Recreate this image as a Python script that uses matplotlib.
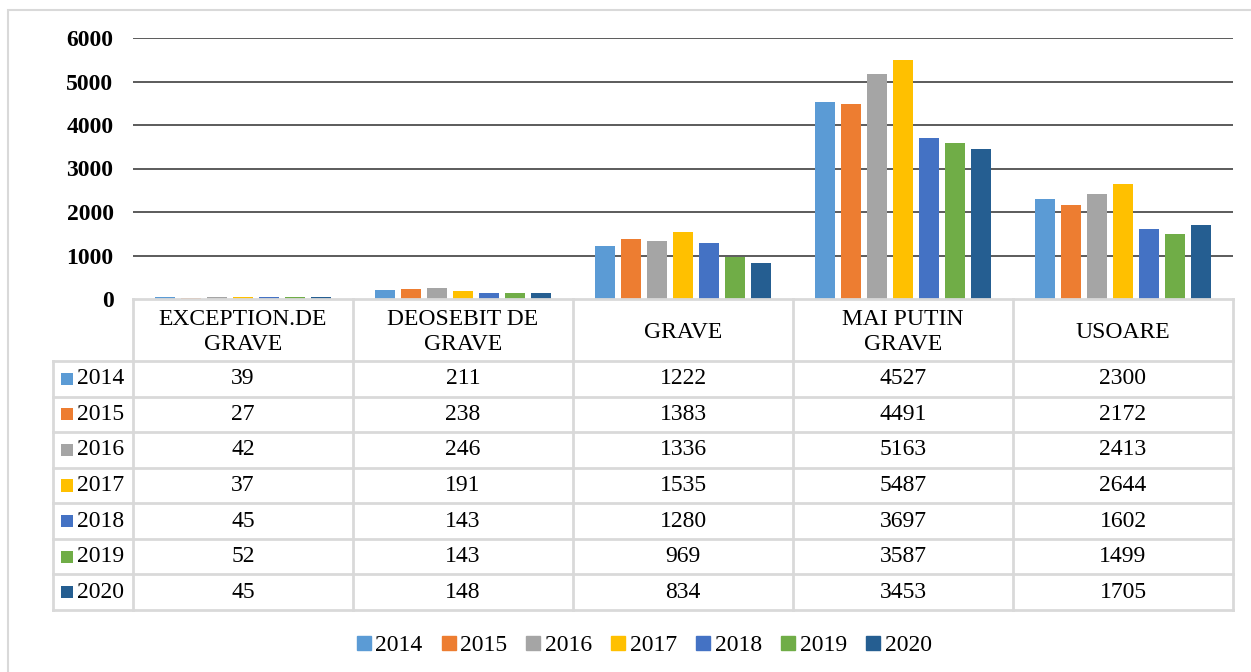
import matplotlib.pyplot as plt
import numpy as np
from matplotlib.lines import Line2D
from matplotlib.patches import Rectangle

# data
categories = ["EXCEPTION.DE\nGRAVE", "DEOSEBIT DE\nGRAVE", "GRAVE", "MAI PUTIN\nGRAVE", "USOARE"]
years = ["2014", "2015", "2016", "2017", "2018", "2019", "2020"]
v2014 = [39, 211, 1222, 4527, 2300]
v2015 = [27, 238, 1383, 4491, 2172]
v2016 = [42, 246, 1336, 5163, 2413]
v2017 = [37, 191, 1535, 5487, 2644]
v2018 = [45, 143, 1280, 3697, 1602]
v2019 = [52, 143, 969, 3587, 1499]
v2020 = [45, 148, 834, 3453, 1705]
series = [v2014, v2015, v2016, v2017, v2018, v2019, v2020]
colors = ["#5B9BD5", "#ED7D31", "#A5A5A5", "#FFC000", "#4472C4", "#70AD47", "#255E91"]
yticks = [0, 1000, 2000, 3000, 4000, 5000, 6000]

plt.rcParams['font.family'] = ['Liberation Serif', 'DejaVu Serif']

W, H = 1251, 672
fig = plt.figure(figsize=(W / 100, H / 100), dpi=100)

def fx(x):
    return x / W

def fy(y):
    return 1 - y / H

grid_c = "#D9D9D9"

# outer border
fig.add_artist(Rectangle((fx(8), fy(690)), fx(1270) - fx(8), fy(10) - fy(690),
                         transform=fig.transFigure, fill=False, edgecolor=grid_c, lw=1.5))

left, right, top, bottom = 133, 1233, 38, 299
ax = fig.add_axes([fx(left), fy(bottom), fx(right) - fx(left), fy(top) - fy(bottom)])

x = np.arange(len(categories))
pitch = 0.118
width = 0.091
for i, vals in enumerate(series):
    ax.bar(x + (i - 3) * pitch, vals, width, color=colors[i], zorder=3)

ax.set_xlim(-0.5, len(categories) - 0.5)
ax.set_ylim(0, 6000)
ax.set_yticks(yticks)
ax.set_yticklabels([str(t) for t in yticks], fontsize=17, fontweight='bold')
ax.tick_params(axis='y', length=0, pad=14)
ax.set_xticks([])
for s in ax.spines.values():
    s.set_visible(False)
for t in yticks[1:]:
    ax.axhline(t, color="#404040", lw=1.2, zorder=1)

# data table
row_top = 361
row_h = (610 - 361) / len(years)
table_bottom = row_top + row_h * len(years)
col_w = (right - left) / len(categories)
lbl_left = 53

def hline(x0, x1, y):
    fig.add_artist(Line2D([fx(x0), fx(x1)], [fy(y), fy(y)], transform=fig.transFigure,
                          color=grid_c, lw=2))

def vline(x, y0, y1):
    fig.add_artist(Line2D([fx(x), fx(x)], [fy(y0), fy(y1)], transform=fig.transFigure,
                          color=grid_c, lw=2))

hline(left, right, bottom)
for r in range(len(years) + 1):
    hline(lbl_left, right, row_top + r * row_h)
for c in range(len(categories) + 1):
    vline(left + c * col_w, bottom, table_bottom)
vline(lbl_left, row_top, table_bottom)

for c, name in enumerate(categories):
    fig.text(fx(left + (c + 0.5) * col_w), fy((bottom + row_top) / 2 + 2), name,
             ha='center', va='center', fontsize=17, linespacing=1.2)

for r, yr in enumerate(years):
    yc = row_top + (r + 0.5) * row_h
    fig.add_artist(Rectangle((fx(61), fy(yc + 6)), fx(12), fy(0) - fy(12),
                             transform=fig.transFigure, color=colors[r], lw=0))
    fig.text(fx(77), fy(yc), yr, ha='left', va='center', fontsize=17)
    for c in range(len(categories)):
        fig.text(fx(left + (c + 0.5) * col_w), fy(yc), str(series[r][c]),
                 ha='center', va='center', fontsize=17)

# legend
handles = [Line2D([], [], marker='s', linestyle='', markersize=9.5, color=colors[i]) for i in range(len(years))]
fig.legend(handles, years, loc='center', bbox_to_anchor=(fx(643), fy(645)), ncol=7,
           frameon=False, fontsize=17, handletextpad=0.1, columnspacing=0.7, handlelength=0.8)

fig.savefig("out.png", dpi=100)
